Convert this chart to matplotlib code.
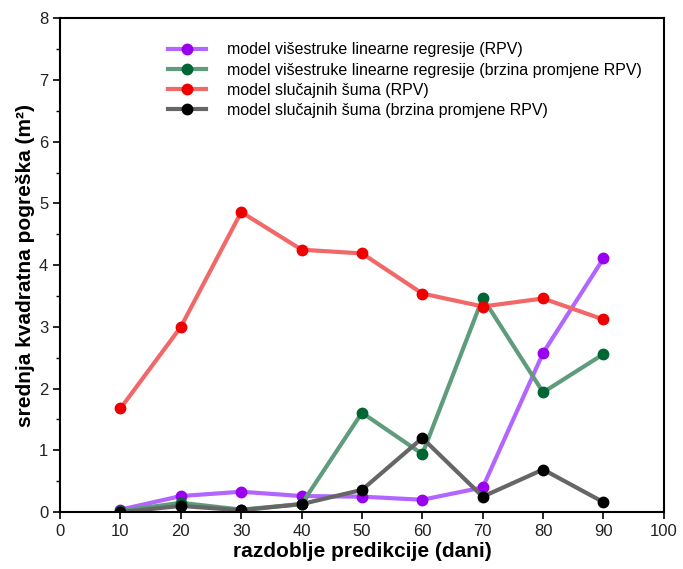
import matplotlib.pyplot as plt
from matplotlib.ticker import MultipleLocator

plt.rcParams['font.family'] = ['Liberation Sans', 'DejaVu Sans']

days = [10, 20, 30, 40, 50, 60, 70, 80, 90]
mlr_rpv = [0.04, 0.26, 0.33, 0.26, 0.25, 0.20, 0.40, 2.58, 4.11]
mlr_rate = [0.02, 0.15, 0.04, 0.13, 1.61, 0.94, 3.47, 1.94, 2.56]
rf_rpv = [1.68, 3.00, 4.86, 4.25, 4.19, 3.54, 3.33, 3.46, 3.12]
rf_rate = [0.00, 0.10, 0.03, 0.13, 0.36, 1.20, 0.25, 0.69, 0.16]

labels = ["model višestruke linearne regresije (RPV)",
          "model višestruke linearne regresije (brzina promjene RPV)",
          "model slučajnih šuma (RPV)",
          "model slučajnih šuma (brzina promjene RPV)"]

fig = plt.figure(figsize=(6.83, 5.69), dpi=100)
ax = fig.add_axes([0.088, 0.1, 0.884, 0.868])

series = [(mlr_rpv, '#b266ff', '#9900ee'),
          (mlr_rate, '#5e9c7c', '#006633'),
          (rf_rpv, '#f06868', '#ee0000'),
          (rf_rate, '#666666', '#000000')]
for (vals, lc, mc), lab in zip(series, labels):
    ax.plot(days, vals, color=lc, lw=3, marker='o', ms=7.5,
            markerfacecolor=mc, markeredgecolor=mc, label=lab)

ax.set_xlim(0, 100)
ax.set_ylim(0, 8)
ax.xaxis.set_major_locator(MultipleLocator(10))
ax.yaxis.set_major_locator(MultipleLocator(1))
ax.yaxis.set_minor_locator(MultipleLocator(0.5))
ax.tick_params(which='both', direction='out', labelsize=12, colors='black', labelcolor='#222222')
ax.tick_params(which='major', length=5, width=1.2)
ax.tick_params(which='minor', length=3, width=1)
ax.tick_params(top=False, right=False)
for s in ax.spines.values():
    s.set_linewidth(1.5)

ax.set_xlabel("razdoblje predikcije (dani)", fontsize=15, fontweight='bold', labelpad=2)
ax.set_ylabel("srednja kvadratna pogreška (m²)", fontsize=15, fontweight='bold', labelpad=3)

ax.legend(loc='upper left', bbox_to_anchor=(0.155, 0.98), frameon=False, fontsize=11.5,
          handlelength=2.4, labelspacing=0.32, handletextpad=1.3)

fig.savefig('out.png', dpi=100)
